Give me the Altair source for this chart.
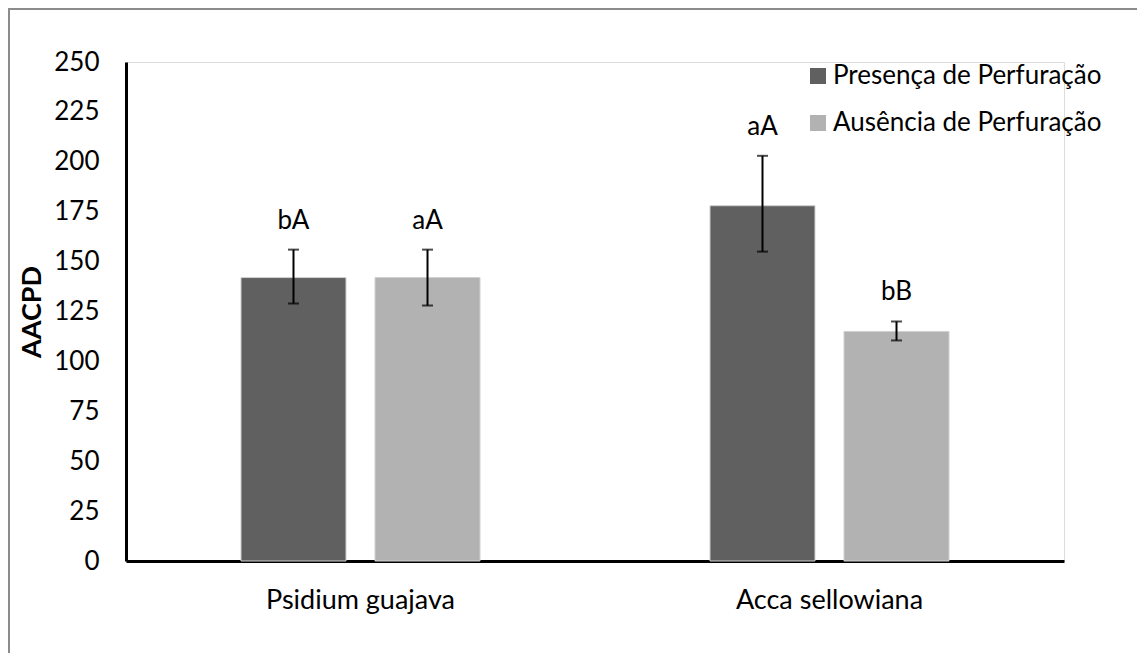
import altair as alt
import pandas as pd

species = ["Psidium guajava", "Psidium guajava", "Acca sellowiana", "Acca sellowiana"]
treatment = ["Presença de Perfuração", "Ausência de Perfuração",
             "Presença de Perfuração", "Ausência de Perfuração"]
mean = [142, 142, 178, 115]
err_low = [129, 128, 155, 110.5]
err_high = [156, 156, 203, 120]
letters = ["bA", "aA", "aA", "bB"]

species_order = ["Psidium guajava", "Acca sellowiana"]
treat_order = ["Presença de Perfuração", "Ausência de Perfuração"]
colors = ["#606060", "#b2b2b2"]
y_ticks = list(range(0, 251, 25))

df = pd.DataFrame({"species": species, "treatment": treatment, "mean": mean,
                   "lo": err_low, "hi": err_high, "letter": letters})

FONT = "Lato"
FS = 26
W, H = 938, 499

x = alt.X("species:N", sort=species_order,
          scale=alt.Scale(paddingInner=0, paddingOuter=0),
          axis=alt.Axis(title=None, labelAngle=0, labelFontSize=27, labelFont=FONT,
                        labelColor="#000000", labelPadding=26, labelLimit=500,
                        ticks=False, tickSize=0,
                        domainColor="black", domainWidth=3))
xo = alt.XOffset("treatment:N", sort=treat_order,
                 scale=alt.Scale(paddingInner=0.2164, paddingOuter=0.858))

base = alt.Chart(df)

bars = base.mark_bar(stroke="#d0d0d0", strokeWidth=1).encode(
    x=x, xOffset=xo,
    y=alt.Y("mean:Q", scale=alt.Scale(domain=[0, 250], nice=False),
            axis=alt.Axis(values=y_ticks, grid=False, ticks=False, tickSize=0,
                          labelFontSize=FS, labelFont=FONT, labelColor="#000000",
                          labelPadding=27, domainColor="black", domainWidth=3,
                          title="AACPD", titleFont=FONT, titleFontSize=27,
                          titleFontWeight="bold", titleColor="black",
                          titleX=-94, titleY=H / 2, titleAngle=-90,
                          titleAlign="center", titleBaseline="middle")),
    color=alt.Color("treatment:N", sort=treat_order,
                    scale=alt.Scale(domain=treat_order, range=colors),
                    legend=alt.Legend(title=None, orient="none", legendX=679, legendY=1,
                                      symbolType="square", symbolSize=256,
                                      symbolStrokeWidth=0, labelFontSize=FS,
                                      labelFont=FONT, labelColor="#000000",
                                      labelOffset=2, rowPadding=21, padding=0,
                                      labelLimit=400)),
)

rules = base.mark_rule(color="black", strokeWidth=2).encode(
    x=x, xOffset=xo, y="lo:Q", y2="hi:Q")
cap_hi = base.mark_tick(color="black", thickness=2, size=11, orient="horizontal").encode(
    x=x, xOffset=xo, y="hi:Q")
cap_lo = base.mark_tick(color="black", thickness=2, size=11, orient="horizontal").encode(
    x=x, xOffset=xo, y="lo:Q")
text = base.mark_text(baseline="bottom", dy=-16, fontSize=FS, font=FONT,
                      color="#000000").encode(
    x=x, xOffset=xo, y="hi:Q", text="letter:N")

frame_df = pd.DataFrame({"a": [0]})
frame_left = alt.Chart(frame_df).mark_rule(color="#8c8c8c", strokeWidth=2).encode(
    x=alt.value(-117), y=alt.value(-53), y2=alt.value(620))
frame_top = alt.Chart(frame_df).mark_rule(color="#8c8c8c", strokeWidth=2).encode(
    x=alt.value(-118), x2=alt.value(1020), y=alt.value(-53))

chart = alt.layer(bars, rules, cap_hi, cap_lo, text, frame_left, frame_top).properties(
    width=W, height=H,
    autosize=alt.AutoSizeParams(type="none"),
    padding={"left": 118, "top": 54, "right": 73, "bottom": 92},
).configure_view(stroke=None).configure(background="white")

chart.save("out.html", embed_options={"renderer": "svg", "actions": False})
